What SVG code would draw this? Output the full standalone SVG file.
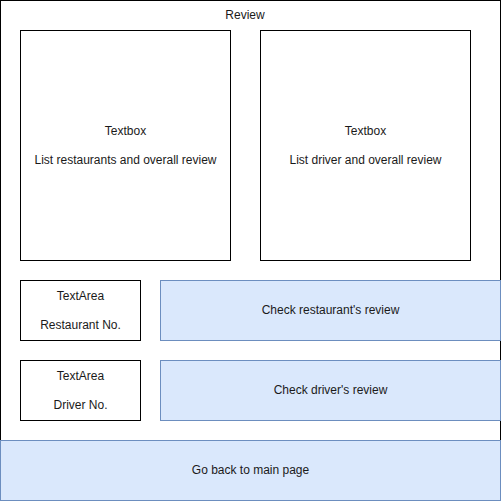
<svg xmlns="http://www.w3.org/2000/svg" width="502" height="501" viewBox="0 0 502 501">
<style>
.box{fill:#ffffff;stroke:#000000;stroke-width:1}
.blue{fill:#dae8fc;stroke:#6c8ebf;stroke-width:1}
text{font-family:"Liberation Sans",Arial,sans-serif;font-size:12px;fill:#1a1a1a;text-anchor:middle;dominant-baseline:central}
</style>
<rect width="502" height="501" fill="#ffffff"/>
<g id="review">
<rect class="box" x="0.5" y="0.5" width="500" height="440"/>
<text x="245" y="15">Review</text>
</g>
<g id="textbox-restaurants">
<rect class="box" x="20.5" y="30.5" width="210" height="230"/>
<text x="125.5" y="131">Textbox</text>
<text x="125.5" y="160">List restaurants and overall review</text>
</g>
<g id="textbox-drivers">
<rect class="box" x="260.5" y="30.5" width="210" height="230"/>
<text x="365.5" y="131">Textbox</text>
<text x="365.5" y="160">List driver and overall review</text>
</g>
<g id="textarea-restaurant">
<rect class="box" x="20.5" y="280.5" width="120" height="60"/>
<text x="80.5" y="296">TextArea</text>
<text x="80.5" y="325">Restaurant No.</text>
</g>
<g id="check-restaurant">
<rect class="blue" x="160.5" y="280.5" width="340" height="60"/>
<text x="330.5" y="310">Check restaurant's review</text>
</g>
<g id="textarea-driver">
<rect class="box" x="20.5" y="360.5" width="120" height="60"/>
<text x="80.5" y="376">TextArea</text>
<text x="80.5" y="405">Driver No.</text>
</g>
<g id="check-driver">
<rect class="blue" x="160.5" y="360.5" width="340" height="60"/>
<text x="330.5" y="390">Check driver's review</text>
</g>
<g id="go-back">
<rect class="blue" x="0.5" y="440.5" width="500" height="60"/>
<text x="250.5" y="470">Go back to main page</text>
</g>
<g id="connectors"/>
</svg>
